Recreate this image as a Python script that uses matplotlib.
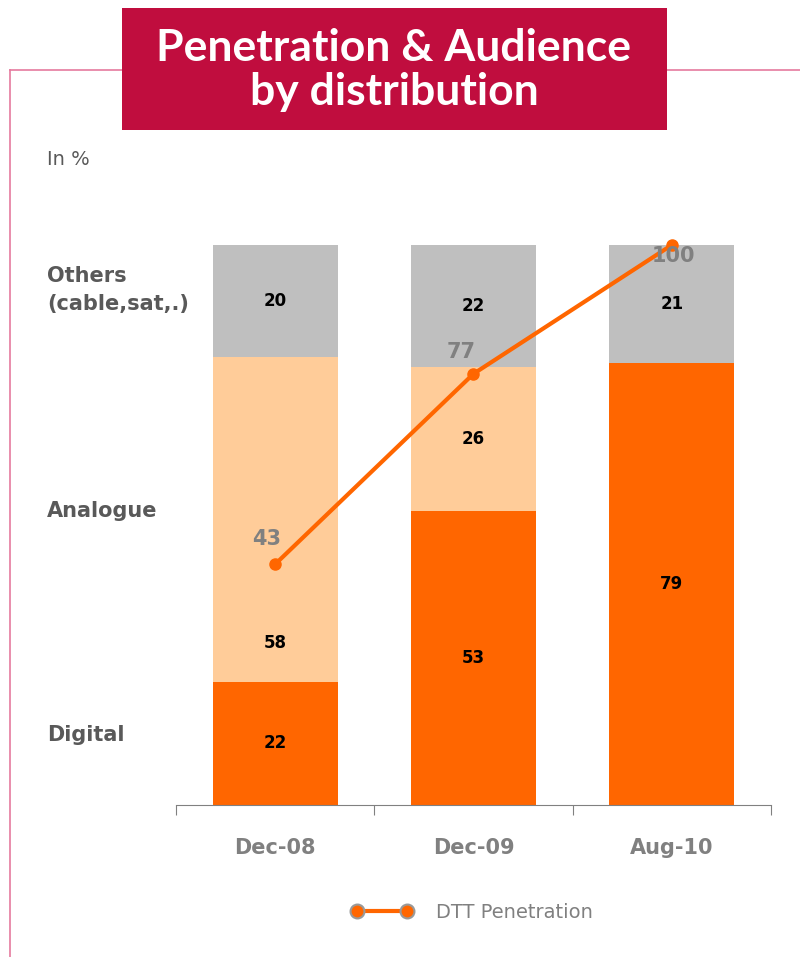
import matplotlib.pyplot as plt
import numpy as np
from matplotlib.lines import Line2D
from matplotlib.patches import Rectangle

# Data
periods = ["Dec-08", "Dec-09", "Aug-10"]
digital = [22, 53, 79]
analogue = [58, 26, 0]
others = [20, 22, 21]
dtt_penetration = [43, 77, 100]
row_labels = ["Others\n(cable,sat,.)", "Analogue", "Digital"]

ORANGE = "#FF6600"
PEACH = "#FFCC99"
GREY = "#BFBFBF"
CRIMSON = "#C00D3E"
PINK = "#E57A9E"
TEXT_GREY = "#595959"

fig = plt.figure(figsize=(8, 9.57), dpi=100)

# Frame lines and title box
fig.add_artist(Line2D([0.0125, 0.0125], [0.0, 0.927], color=PINK, lw=1.2))
fig.add_artist(Line2D([0.0125, 1.0], [0.927, 0.927], color=PINK, lw=1.2))
fig.add_artist(Rectangle((0.1525, 0.864), 0.681, 0.128, transform=fig.transFigure,
                         facecolor=CRIMSON, edgecolor="none", zorder=3))
fig.text(0.4925, 0.927, "Penetration & Audience\nby distribution", ha="center", va="center",
         color="white", fontsize=32, fontweight="bold", family="Lato",
         linespacing=1.1, zorder=4)
fig.text(0.059, 0.833, "In %", fontsize=14, color=TEXT_GREY, va="center")

ax = fig.add_axes([0.22, 0.1588, 0.74375, 0.5852])

x = np.arange(len(periods))
totals = np.array(digital) + np.array(analogue) + np.array(others)
# 100% stacked: scale each column to its total
d = np.array(digital) / totals * 100
a = np.array(analogue) / totals * 100
o = np.array(others) / totals * 100

w = 0.63
ax.bar(x, d, w, color=ORANGE, zorder=1)
ax.bar(x, a, w, bottom=d, color=PEACH, zorder=1)
ax.bar(x, o, w, bottom=d + a, color=GREY, zorder=1)

# segment labels (Dec-08 analogue label sits low in the segment)
for i in range(len(periods)):
    lab_kw = dict(ha="center", va="center", fontsize=12, fontweight="bold", color="black")
    ax.text(x[i], d[i] / 2, str(digital[i]), **lab_kw)
    if analogue[i]:
        ya = d[i] + a[i] / 2
        if i == 0:
            ya = d[i] + a[i] * 0.12
        ax.text(x[i], ya, str(analogue[i]), **lab_kw)
    ax.text(x[i], d[i] + a[i] + o[i] / 2, str(others[i]), **lab_kw)

ax.plot(x, dtt_penetration, color=ORANGE, lw=3, marker="o", ms=8,
        zorder=3, clip_on=False)
offsets = [(-6, 18), (-9, 16), (1, -8)]
for i, v in enumerate(dtt_penetration):
    ax.annotate(str(v), (x[i], v), xytext=offsets[i], textcoords="offset points",
                ha="center", va="center", fontsize=15, fontweight="bold", color="#808080",
                zorder=4)

ax.set_xlim(-0.5, 2.5)
ax.set_ylim(0, 100)
for s in ["top", "right", "left"]:
    ax.spines[s].set_visible(False)
ax.spines["bottom"].set_color("#808080")
ax.set_yticks([])
ax.set_xticks([-0.5, 0.5, 1.5, 2.5])
ax.set_xticklabels([])
ax.tick_params(axis="x", which="major", length=7, color="#808080", direction="out")
ax.set_xticks(x, minor=True)
ax.set_xticklabels(periods, minor=True, fontsize=15, fontweight="bold", color="#808080")
ax.tick_params(axis="x", which="minor", length=0, pad=24)

# row labels at left
for lab, ypx in zip(row_labels, [290, 511, 735]):
    fig.text(0.059, 1 - ypx / 957, lab, fontsize=15, fontweight="bold", color=TEXT_GREY,
             va="center", ha="left", linespacing=1.5)

handle = Line2D([], [], color=ORANGE, lw=3, marker="o", ms=10,
                markerfacecolor=ORANGE, markeredgecolor="#999999", markeredgewidth=1.5)
fig.legend([handle], ["DTT Penetration"], loc="center", bbox_to_anchor=(0.59, 0.047),
           frameon=False, fontsize=14, labelcolor="#808080", handlelength=3.2,
           numpoints=2, handletextpad=1.2)

fig.savefig("out.png", dpi=100)
